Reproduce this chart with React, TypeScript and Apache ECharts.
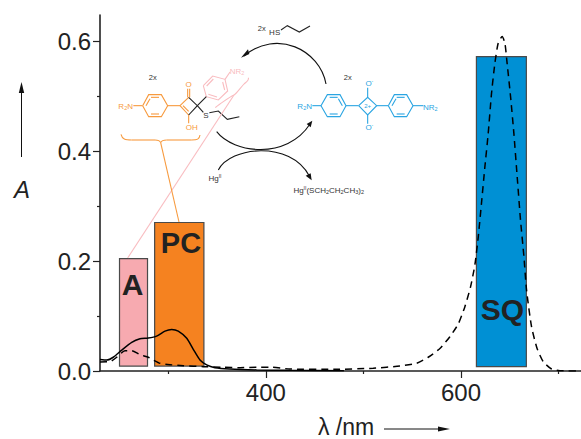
import React, { useEffect, useRef } from "react";
import * as echarts from "echarts";

const solidX = [230, 236.9, 243.6, 252.3, 262.5, 271, 279.5, 288, 296.6, 303.5, 310.2, 318.9, 325.6, 332.5, 339.3, 347.8, 363, 390.6, 424.7, 480];
const solidY = [0.021, 0.02, 0.025, 0.038, 0.052, 0.0585, 0.06, 0.0635, 0.0725, 0.0755, 0.0725, 0.0594, 0.0395, 0.02, 0.011, 0.006, 0.0036, 0.002, 0.0012, 0.0005];
const dashX = [230, 240.3, 247.1, 255.6, 262.5, 271, 279.5, 284.6, 291.5, 301.7, 315.4, 335.9, 356.4, 373.5, 390.6, 404, 424.7, 470, 510, 537.4, 554.5, 566.4, 578.4, 588.6, 597.2, 604, 609.8, 614.2, 617.7, 621, 624.5, 627.9, 631.3, 634.7, 638.1, 642.2, 645, 647.3, 650.8, 654.2, 657.6, 661, 664.5, 667.2, 672.3, 678, 684.3, 692.8, 701.3, 723];
const dashY = [0.0164, 0.017, 0.025, 0.037, 0.037, 0.0297, 0.025, 0.02, 0.014, 0.0115, 0.0097, 0.0079, 0.0067, 0.006, 0.007, 0.007, 0.0036, 0.003, 0.005, 0.0091, 0.014, 0.025, 0.041, 0.0624, 0.0855, 0.117, 0.153, 0.1927, 0.244, 0.305, 0.3715, 0.432, 0.505, 0.559, 0.596, 0.608, 0.596, 0.559, 0.499, 0.432, 0.353, 0.2745, 0.208, 0.147, 0.0805, 0.041, 0.017, 0.0036, 0.0005, 0];
const bandStart = [250, 286, 615.8];
const bandEnd = [278.7, 336.5, 667];
const bandTop = [0.2045, 0.27, 0.5715];
const bandBottom = [0.009, 0.009, 0.008];
const bandColors = ["#f7aab0", "#f58220", "#0090d4"];
const yMajor = [0, 0.2, 0.4, 0.6];
const yMinor = [0.1, 0.3, 0.5];
const xMajor = [400, 600];
const xMinor = [300, 500, 700];

const INK = "#222222";
const ORANGE = "#f79a3e";
const PINK = "#f9bcc0";
const BLUE = "#2aa5e2";
const FONT = "'Liberation Sans', Arial, sans-serif";
const TOP = 20;

// structure drawing helpers: coordinates are in a 3x space with origin at (90,0)
const P = (x: number, y: number): [number, number] => [90 + x / 3, y / 3];
const line = (pts: number[][], stroke: string, lineWidth = 1.1) => ({
  type: "polyline",
  silent: true,
  z: TOP,
  shape: { points: pts.map((p) => P(p[0], p[1])) },
  style: { stroke, fill: null, lineWidth },
});
const curve = (a: number[], b: number[], c: number[], d: number[], stroke: string, lineWidth = 1.1) => {
  const [x1, y1] = P(a[0], a[1]);
  const [cpx1, cpy1] = P(b[0], b[1]);
  const [cpx2, cpy2] = P(c[0], c[1]);
  const [x2, y2] = P(d[0], d[1]);
  return {
    type: "bezierCurve",
    silent: true,
    z: TOP,
    shape: { x1, y1, cpx1, cpy1, cpx2, cpy2, x2, y2 },
    style: { stroke, fill: null, lineWidth },
  };
};
const head = (pts: number[][], fill = "#111") => ({
  type: "polygon",
  silent: true,
  z: TOP,
  shape: { points: pts.map((p) => P(p[0], p[1])) },
  style: { fill },
});
const label = (x: number, y: number, text: string, fill: string, fontSize = 8, extra: any = {}) => {
  const [px, py] = P(x, y);
  return {
    type: "text",
    silent: true,
    z: TOP,
    x: px,
    y: py,
    style: { text, fill, fontSize, fontFamily: FONT, align: "center", verticalAlign: "middle", ...extra },
  };
};
const plain = (x: number, y: number, text: string, fontSize: number, extra: any = {}) => ({
  type: "text",
  silent: true,
  z: TOP,
  x,
  y,
  style: { text, fill: INK, fontSize, fontFamily: FONT, align: "center", verticalAlign: "middle", ...extra },
});
const hex = (c: string, v: number[][], inner: number[][][]) => [
  line([...v, v[0]], c),
  ...inner.map((s) => line(s, c)),
];
const subRich = (fill: string) => ({
  s: { fontSize: 5.5, fill, fontFamily: FONT, verticalAlign: "bottom" as const, lineHeight: 10 },
  u: { fontSize: 5, fill, fontFamily: FONT, verticalAlign: "top" as const, lineHeight: 10 },
  n: { fontSize: 8, fill, fontFamily: FONT, lineHeight: 10 },
});
const rich = (x: number, y: number, text: string, fill: string) => ({
  ...label(x, y, "", fill),
  style: { text, rich: subRich(fill), align: "center", verticalAlign: "middle" },
});

const structure: any[] = [
  // orange compound
  ...hex(ORANGE, [[158, 317], [176, 284], [214, 284], [233, 317], [214, 350], [176, 350]], [
    [[183, 292], [207, 292]],
    [[183, 342], [207, 342]],
    [[168, 317], [180, 296]],
  ]),
  line([[130, 317], [158, 317]], ORANGE),
  line([[233, 317], [270, 317]], ORANGE),
  line([[270, 317], [296, 292]], ORANGE),
  line([[270, 317], [296, 345]], ORANGE),
  line([[279, 317], [296, 334]], ORANGE),
  line([[296, 292], [322, 317], [296, 345]], "#222"),
  line([[293, 292], [293, 266]], ORANGE),
  line([[299, 292], [299, 266]], ORANGE),
  line([[296, 345], [296, 370]], ORANGE),
  label(296, 252, "O", ORANGE, 8),
  label(305, 381, "OH", ORANGE, 8),
  rich(107, 319, "{n|R}{s|2}{n|N}", ORANGE),
  label(188, 232, "2x", "#333", 7.5),
  // pink ring
  ...hex(PINK, [[340, 257], [368, 228], [405, 238], [413, 273], [385, 300], [349, 290]], [
    [[350, 258], [370, 237]],
    [[398, 246], [404, 270]],
    [[381, 291], [355, 283]],
  ]),
  line([[322, 317], [349, 290]], "#222"),
  line([[405, 238], [420, 216]], PINK),
  rich(441, 213, "{n|NR}{s|2}", PINK),
  // thioether
  line([[322, 317], [340, 337]], "#222"),
  label(348, 346, "S", "#333", 8),
  line([[358, 338], [385, 333], [412, 358], [448, 350]], "#222"),
  // brace pink + leader
  curve([475, 233], [478, 240], [470, 245], [462, 252], PINK),
  curve([462, 252], [450, 265], [440, 280], [432, 285], PINK),
  curve([432, 285], [420, 290], [400, 305], [390, 312], PINK),
  curve([390, 312], [382, 318], [378, 320], [376, 323], PINK),
  line([[432, 285], [113, 774]], PINK),
  // brace orange + leader
  curve([93, 403], [97, 418], [105, 420], [125, 420], ORANGE),
  line([[125, 420], [195, 420]], ORANGE),
  curve([195, 420], [205, 420], [210, 423], [212, 428], ORANGE),
  curve([212, 428], [214, 423], [220, 420], [230, 420], ORANGE),
  line([[230, 420], [305, 420]], ORANGE),
  curve([305, 420], [322, 420], [328, 418], [330, 405], ORANGE),
  line([[212, 428], [267, 666]], ORANGE),
  // blue compound
  ...hex(BLUE, [[693, 317], [712, 284], [750, 284], [768, 317], [750, 350], [712, 350]], [
    [[719, 292], [743, 292]],
    [[719, 342], [743, 342]],
    [[757, 317], [745, 296]],
  ]),
  line([[667, 317], [693, 317]], BLUE),
  line([[768, 317], [806, 317]], BLUE),
  line([[806, 317], [833, 292], [860, 317], [833, 345], [806, 317]], BLUE),
  line([[833, 292], [833, 263]], BLUE),
  line([[833, 345], [833, 371]], BLUE),
  line([[860, 317], [895, 317]], BLUE),
  ...hex(BLUE, [[895, 317], [913, 284], [950, 284], [969, 317], [950, 350], [913, 350]], [
    [[920, 292], [944, 292]],
    [[920, 342], [944, 342]],
    [[906, 317], [918, 296]],
  ]),
  line([[969, 317], [1000, 317]], BLUE),
  label(833, 317, "2+", BLUE, 6),
  rich(838, 250, "{n|O}{u|-}", BLUE),
  rich(838, 381, "{n|O}{u|-}", BLUE),
  rich(644, 319, "{n|R}{s|2}{n|N}", BLUE),
  rich(1021, 321, "{n|NR}{s|2}", BLUE),
  label(773, 232, "2x", "#333", 7.5),
  // thiol
  label(515, 85, "2x", "#333", 7.5),
  label(554, 96, "HS", "#333", 8),
  line([[573, 90], [592, 77], [628, 96], [660, 78]], "#222"),
  // cycle arrows
  curve([708, 252], [690, 150], [560, 85], [462, 168], "#111"),
  head([[453, 173], [474, 148], [478, 162]]),
  curve([380, 395], [430, 460], [590, 480], [660, 372], "#111"),
  head([[667, 362], [650, 372], [662, 382]]),
  curve([385, 510], [420, 440], [600, 420], [658, 528], "#111"),
  head([[665, 541], [647, 527], [662, 520]]),
  rich(375, 534, "{n|Hg}{u|II}", "#333"),
  rich(716, 570, "{n|Hg}{u|II}{n|(SCH}{s|2}{n|CH}{s|2}{n|CH}{s|3}{n|)}{s|2}", "#333"),
];

const decorations: any[] = [
  ...structure,
  // band names
  plain(132.5, 284, "A", 30, { fontWeight: "bold" }),
  plain(181, 243, "PC", 29, { fontWeight: "bold" }),
  plain(502.5, 309, "SQ", 30, { fontWeight: "bold" }),
  // y axis title and arrow
  plain(22, 189, "A", 24, { fontStyle: "italic" }),
  { type: "line", silent: true, z: TOP, shape: { x1: 21.5, y1: 157, x2: 21.5, y2: 90 }, style: { stroke: "#111", lineWidth: 1 } },
  { type: "polygon", silent: true, z: TOP, shape: { points: [[21.5, 82], [18.8, 93], [24.2, 93]] }, style: { fill: "#111" } },
  // x axis title and arrow
  plain(346, 427, "λ /nm", 23),
  { type: "line", silent: true, z: TOP, shape: { x1: 384, y1: 429, x2: 442, y2: 429 }, style: { stroke: "#111", lineWidth: 1 } },
  { type: "polygon", silent: true, z: TOP, shape: { points: [[450, 429], [438, 426.5], [438, 431.5]] }, style: { fill: "#111" } },
];

export default function App() {
  const ref = useRef<HTMLDivElement>(null);
  useEffect(() => {
    const chart = echarts.init(ref.current!, undefined, { renderer: "svg" });
    const axisLine = { show: true, onZero: false, lineStyle: { color: INK, width: 1.6 } };
    const labelStyle = { color: INK, fontSize: 24, fontFamily: FONT };
    chart.setOption({
      animation: false,
      backgroundColor: "#ffffff",
      grid: { left: 100, top: 15, width: 481, height: 356, containLabel: false },
      xAxis: [
        {
          type: "value", min: 230, max: 723, position: "bottom",
          axisLine,
          axisTick: { show: true, length: 7, customValues: xMajor, lineStyle: { color: INK, width: 1.2 } },
          axisLabel: { show: true, customValues: xMajor, margin: 9, ...labelStyle },
          splitLine: { show: false },
        },
        {
          type: "value", min: 230, max: 723, position: "bottom",
          axisLine: { show: false, onZero: false },
          axisTick: { show: true, length: 3, customValues: xMinor, lineStyle: { color: INK, width: 1.2 } },
          axisLabel: { show: false },
          splitLine: { show: false },
        },
      ],
      yAxis: [
        {
          type: "value", min: 0, max: 0.6473, position: "left",
          axisLine,
          axisTick: { show: true, length: 7, customValues: yMajor, lineStyle: { color: INK, width: 1.2 } },
          axisLabel: { show: true, customValues: yMajor, margin: 9, formatter: (v: number) => v.toFixed(1), ...labelStyle },
          splitLine: { show: false },
        },
        {
          type: "value", min: 0, max: 0.6473, position: "left",
          axisLine: { show: false, onZero: false },
          axisTick: { show: true, length: 3, customValues: yMinor, lineStyle: { color: INK, width: 1.2 } },
          axisLabel: { show: false },
          splitLine: { show: false },
        },
      ],
      series: [
        {
          type: "custom",
          z: 1,
          silent: true,
          data: bandStart.map((s, i) => [s, bandEnd[i], bandTop[i], bandBottom[i], i]),
          encode: { x: [0, 1], y: [2, 3] },
          renderItem: (_: any, api: any) => {
            const a = api.coord([api.value(0), api.value(2)]);
            const b = api.coord([api.value(1), api.value(3)]);
            return {
              type: "rect",
              shape: { x: a[0], y: a[1], width: b[0] - a[0], height: b[1] - a[1] },
              style: { fill: bandColors[api.value(4)], stroke: "#4a4a4a", lineWidth: 1.2 },
            };
          },
        },
        {
          type: "line", z: 3, silent: true, showSymbol: false, smooth: 0.2,
          data: solidX.map((x, i) => [x, solidY[i]]),
          lineStyle: { color: "#000", width: 1.5 },
        },
        {
          type: "line", z: 3, silent: true, showSymbol: false, smooth: 0.2,
          data: dashX.map((x, i) => [x, dashY[i]]),
          lineStyle: { color: "#000", width: 1.5, type: [7, 5] },
        },
      ],
      graphic: { elements: decorations },
    });
    return () => chart.dispose();
  }, []);
  return <div ref={ref} style={{ position: "absolute", left: 0, top: 0, width: 581, height: 439 }} />;
}
